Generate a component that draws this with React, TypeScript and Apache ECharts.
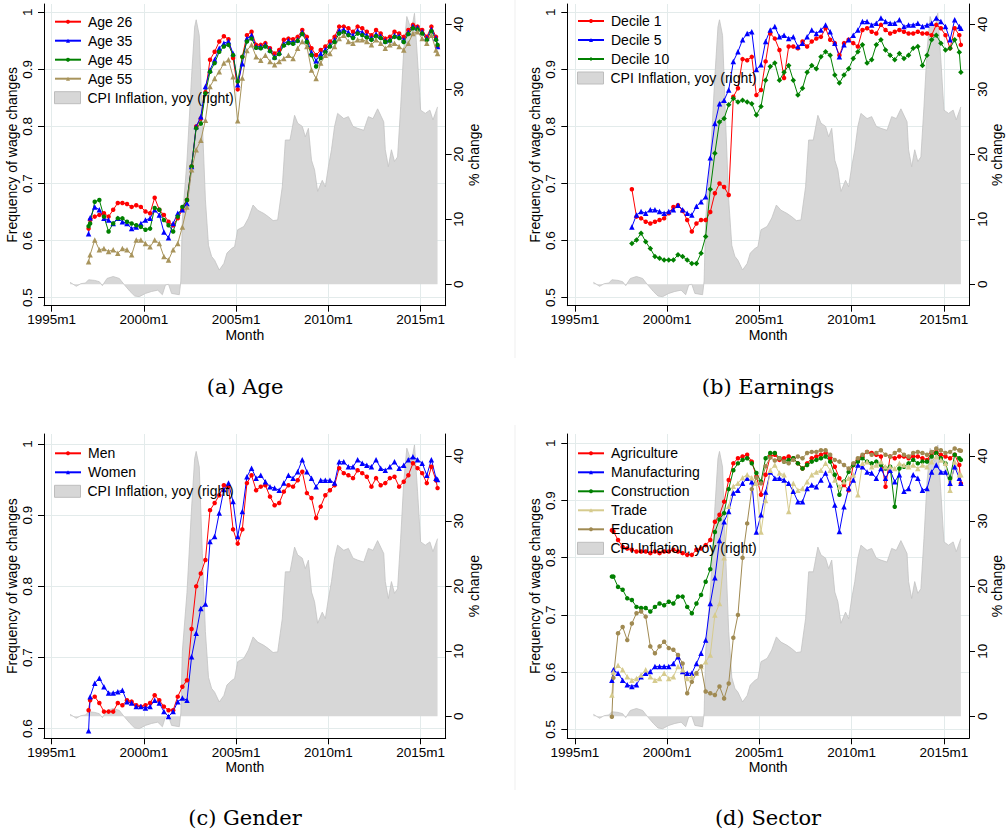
import React, { useEffect, useRef } from "react";
import * as echarts from "echarts";

const FONT = '"Liberation Sans", Arial, Helvetica, sans-serif';
const SERIF = '"DejaVu Serif", "Liberation Serif", serif';
const GRID_COLOR = "#e3ebeb";
const CPI_NAME = "CPI Inflation, yoy (right)";

const monthIndex = (s: string): number => {
  const [y, m] = s.split("m").map(Number);
  return (y - 1995) * 12 + (m - 1);
};

// observation dates: 1997m1, quarterly 1997m2 ... 2015m11, then 2015m12
const quarterly: string[] = [];
for (let y = 1997; y <= 2015; y++) for (const m of [2, 5, 8, 11]) quarterly.push(`${y}m${m}`);
const obsDates = ["1997m1", ...quarterly, "2015m12"];

const xTickLabels = ["1995m1", "2000m1", "2005m1", "2010m1", "2015m1"];
const yTicksWide = [0.5, 0.6, 0.7, 0.8, 0.9, 1];
const yTicksGender = [0.6, 0.7, 0.8, 0.9, 1];
const rightTicks = [0, 10, 20, 30, 40];

// ---- (a) Age ----
const age26 = [0.621,
  0.636, 0.642, 0.645, 0.648, 0.642, 0.654, 0.666, 0.666, 0.664, 0.659, 0.662, 0.659,
  0.651, 0.648, 0.675, 0.654, 0.645, 0.633, 0.627, 0.639, 0.654, 0.671, 0.73, 0.80,
  0.814, 0.86, 0.917, 0.931, 0.949, 0.958, 0.953, 0.92, 0.865, 0.922, 0.96, 0.966,
  0.943, 0.943, 0.946, 0.937, 0.928, 0.934, 0.952, 0.954, 0.953, 0.957, 0.969, 0.957,
  0.937, 0.925, 0.934, 0.94, 0.949, 0.957, 0.975, 0.975, 0.972, 0.966, 0.975, 0.972,
  0.966, 0.96, 0.969, 0.963, 0.954, 0.957, 0.966, 0.963, 0.957, 0.969, 0.978, 0.975,
  0.969, 0.957, 0.975, 0.957, 0.94];
const age35 = [0.612,
  0.64, 0.659, 0.654, 0.639, 0.636, 0.63, 0.639, 0.633, 0.63, 0.621, 0.624, 0.63,
  0.636, 0.639, 0.654, 0.645, 0.615, 0.605, 0.63, 0.648, 0.654, 0.665, 0.73, 0.80,
  0.817, 0.87, 0.899, 0.917, 0.937, 0.946, 0.949, 0.928, 0.873, 0.91, 0.954, 0.96,
  0.94, 0.94, 0.943, 0.935, 0.922, 0.93, 0.945, 0.95, 0.948, 0.952, 0.965, 0.952,
  0.93, 0.915, 0.928, 0.935, 0.943, 0.952, 0.968, 0.97, 0.965, 0.96, 0.968, 0.965,
  0.96, 0.955, 0.962, 0.958, 0.95, 0.952, 0.96, 0.958, 0.952, 0.965, 0.975, 0.973,
  0.966, 0.955, 0.97, 0.955, 0.94];
const age45 = [0.625,
  0.63, 0.668, 0.671, 0.642, 0.616, 0.63, 0.639, 0.639, 0.633, 0.63, 0.627, 0.624,
  0.619, 0.621, 0.657, 0.654, 0.636, 0.627, 0.616, 0.642, 0.659, 0.671, 0.73, 0.797,
  0.805, 0.858, 0.896, 0.911, 0.931, 0.94, 0.943, 0.925, 0.879, 0.922, 0.949, 0.954,
  0.938, 0.937, 0.94, 0.932, 0.92, 0.927, 0.942, 0.946, 0.945, 0.95, 0.962, 0.948,
  0.925, 0.905, 0.92, 0.93, 0.94, 0.948, 0.963, 0.965, 0.96, 0.955, 0.963, 0.96,
  0.956, 0.952, 0.958, 0.955, 0.948, 0.95, 0.957, 0.955, 0.948, 0.962, 0.972, 0.97,
  0.963, 0.952, 0.967, 0.952, 0.943];
const age55 = [0.563,
  0.575, 0.601, 0.584, 0.586, 0.581, 0.584, 0.578, 0.586, 0.584, 0.575, 0.601, 0.601,
  0.595, 0.589, 0.601, 0.595, 0.572, 0.566, 0.584, 0.595, 0.624, 0.659, 0.724, 0.759,
  0.776, 0.811, 0.87, 0.884, 0.896, 0.911, 0.917, 0.887, 0.81, 0.885, 0.933, 0.943,
  0.922, 0.916, 0.925, 0.914, 0.908, 0.914, 0.919, 0.925, 0.919, 0.937, 0.949, 0.94,
  0.899, 0.884, 0.911, 0.925, 0.928, 0.94, 0.954, 0.96, 0.949, 0.946, 0.952, 0.952,
  0.949, 0.943, 0.952, 0.946, 0.937, 0.943, 0.946, 0.94, 0.934, 0.946, 0.963, 0.966,
  0.954, 0.946, 0.96, 0.934, 0.928];

// ---- (b) Earnings ----
const decile1 = [null,
  null, null, null, null, 0.69, 0.642, 0.639, 0.633, 0.63, 0.633, 0.636, 0.639,
  0.648, 0.659, 0.662, 0.652, 0.636, 0.616, 0.63, 0.636, 0.636, 0.65, 0.683, 0.70,
  0.694, 0.68, 0.852, 0.867, 0.918, 0.916, 0.922, 0.855, 0.864, 0.914, 0.963, 0.954,
  0.934, 0.885, 0.94, 0.94, 0.937, 0.949, 0.94, 0.949, 0.954, 0.957, 0.972, 0.952,
  0.946, 0.925, 0.946, 0.952, 0.946, 0.94, 0.969, 0.972, 0.966, 0.963, 0.978, 0.969,
  0.963, 0.966, 0.969, 0.966, 0.963, 0.963, 0.966, 0.963, 0.963, 0.96, 0.978, 0.972,
  0.96, 0.937, 0.972, 0.96, 0.943];
const decile5 = [null,
  null, null, null, null, 0.624, 0.645, 0.651, 0.648, 0.654, 0.654, 0.651, 0.648,
  0.651, 0.654, 0.662, 0.654, 0.648, 0.645, 0.66, 0.668, 0.677, 0.745, 0.805, 0.84,
  0.846, 0.864, 0.914, 0.931, 0.952, 0.963, 0.966, 0.90, 0.908, 0.949, 0.969, 0.975,
  0.957, 0.96, 0.954, 0.957, 0.94, 0.946, 0.957, 0.969, 0.963, 0.969, 0.978, 0.966,
  0.946, 0.922, 0.943, 0.952, 0.96, 0.969, 0.984, 0.984, 0.978, 0.981, 0.99, 0.984,
  0.981, 0.981, 0.987, 0.975, 0.978, 0.978, 0.981, 0.975, 0.978, 0.981, 0.99, 0.984,
  0.975, 0.952, 0.987, 0.975, 0.972];
const decile10 = [null,
  null, null, null, null, 0.595, 0.601, 0.613, 0.598, 0.586, 0.572, 0.569, 0.566,
  0.566, 0.566, 0.575, 0.572, 0.566, 0.56, 0.56, 0.578, 0.607, 0.69, 0.753, 0.808,
  0.814, 0.838, 0.849, 0.843, 0.846, 0.843, 0.84, 0.82, 0.835, 0.881, 0.905, 0.911,
  0.881, 0.895, 0.907, 0.881, 0.855, 0.867, 0.895, 0.907, 0.901, 0.922, 0.931, 0.925,
  0.89, 0.876, 0.89, 0.901, 0.919, 0.931, 0.943, 0.911, 0.917, 0.943, 0.952, 0.934,
  0.925, 0.917, 0.928, 0.919, 0.925, 0.937, 0.94, 0.907, 0.925, 0.952, 0.96, 0.946,
  0.934, 0.937, 0.952, 0.93, 0.895];

// ---- (c) Gender ----
const men = [0.626,
  0.64, 0.645, 0.636, 0.624, 0.624, 0.624, 0.636, 0.633, 0.64, 0.638, 0.633, 0.631,
  0.633, 0.636, 0.647, 0.64, 0.631, 0.626, 0.626, 0.645, 0.659, 0.668, 0.74, 0.80,
  0.818, 0.837, 0.907, 0.917, 0.928, 0.942, 0.94, 0.88, 0.86, 0.88, 0.945, 0.956,
  0.935, 0.94, 0.942, 0.926, 0.914, 0.917, 0.933, 0.942, 0.94, 0.949, 0.961, 0.931,
  0.924, 0.896, 0.912, 0.928, 0.935, 0.942, 0.966, 0.959, 0.956, 0.952, 0.963, 0.959,
  0.954, 0.94, 0.952, 0.942, 0.945, 0.952, 0.954, 0.94, 0.947, 0.956, 0.973, 0.966,
  0.959, 0.945, 0.968, 0.949, 0.938];
const women = [0.597,
  0.645, 0.664, 0.671, 0.659, 0.65, 0.65, 0.652, 0.654, 0.638, 0.636, 0.631, 0.631,
  0.629, 0.631, 0.64, 0.636, 0.624, 0.617, 0.624, 0.638, 0.643, 0.64, 0.701, 0.734,
  0.769, 0.775, 0.863, 0.87, 0.903, 0.936, 0.945, 0.919, 0.87, 0.905, 0.954, 0.966,
  0.952, 0.956, 0.947, 0.94, 0.938, 0.935, 0.945, 0.956, 0.952, 0.961, 0.978, 0.961,
  0.952, 0.94, 0.949, 0.949, 0.949, 0.945, 0.975, 0.975, 0.968, 0.968, 0.978, 0.973,
  0.97, 0.968, 0.978, 0.966, 0.963, 0.968, 0.975, 0.966, 0.97, 0.978, 0.982, 0.978,
  0.973, 0.956, 0.978, 0.952, 0.95];

// ---- (d) Sector ----
const agriculture = [0.848,
  0.846, 0.831, 0.819, 0.816, 0.814, 0.811, 0.811, 0.811, 0.808, 0.811, 0.808, 0.811,
  0.811, 0.814, 0.811, 0.808, 0.805, 0.805, 0.814, 0.816, 0.822, 0.831, 0.863, 0.875,
  0.898, 0.936, 0.965, 0.974, 0.977, 0.98, 0.968, 0.942, 0.91, 0.945, 0.977, 0.98,
  0.971, 0.974, 0.977, 0.974, 0.965, 0.956, 0.965, 0.974, 0.977, 0.98, 0.983, 0.974,
  0.959, 0.939, 0.927, 0.918, 0.962, 0.971, 0.977, 0.985, 0.983, 0.98, 0.977, 0.924,
  0.977, 0.974, 0.977, 0.977, 0.974, 0.977, 0.977, 0.974, 0.971, 0.983, 0.985, 0.98,
  0.977, 0.974, 0.98, 0.962, 0.93];
const manufacturing = [0.586,
  0.604, 0.598, 0.586, 0.578, 0.575, 0.578, 0.592, 0.598, 0.601, 0.61, 0.61, 0.61,
  0.61, 0.615, 0.627, 0.601, 0.598, 0.598, 0.615, 0.633, 0.656, 0.72, 0.765, 0.83,
  0.863, 0.881, 0.913, 0.918, 0.93, 0.939, 0.933, 0.845, 0.875, 0.915, 0.95, 0.939,
  0.939, 0.936, 0.93, 0.916, 0.898, 0.898, 0.921, 0.927, 0.924, 0.936, 0.948, 0.927,
  0.892, 0.846, 0.889, 0.921, 0.936, 0.962, 0.959, 0.95, 0.948, 0.939, 0.956, 0.939,
  0.953, 0.933, 0.945, 0.916, 0.921, 0.945, 0.939, 0.918, 0.921, 0.95, 0.962, 0.95,
  0.95, 0.93, 0.959, 0.939, 0.93];
const construction = [0.767,
  0.767, 0.749, 0.744, 0.729, 0.726, 0.714, 0.712, 0.712, 0.706, 0.714, 0.72, 0.717,
  0.723, 0.72, 0.732, 0.732, 0.714, 0.703, 0.72, 0.735, 0.758, 0.78, 0.845, 0.867,
  0.878, 0.92, 0.953, 0.965, 0.971, 0.974, 0.965, 0.948, 0.933, 0.974, 0.983, 0.983,
  0.974, 0.968, 0.971, 0.974, 0.965, 0.956, 0.962, 0.968, 0.971, 0.974, 0.977, 0.968,
  0.945, 0.91, 0.933, 0.95, 0.962, 0.968, 0.974, 0.968, 0.965, 0.968, 0.962, 0.956,
  0.959, 0.889, 0.956, 0.959, 0.965, 0.971, 0.965, 0.968, 0.968, 0.977, 0.983, 0.974,
  0.965, 0.939, 0.98, 0.974, 0.971];
const trade = [0.56,
  0.60, 0.612, 0.604, 0.592, 0.586, 0.589, 0.595, 0.604, 0.592, 0.586, 0.589, 0.598,
  0.589, 0.592, 0.61, 0.604, 0.589, 0.592, 0.598, 0.61, 0.618, 0.63, 0.70, 0.72,
  0.80, 0.89, 0.925, 0.93, 0.94, 0.945, 0.94, 0.93, 0.845, 0.90, 0.953, 0.962,
  0.948, 0.945, 0.881, 0.93, 0.918, 0.921, 0.933, 0.945, 0.95, 0.953, 0.965, 0.953,
  0.936, 0.924, 0.933, 0.939, 0.945, 0.91, 0.965, 0.968, 0.959, 0.962, 0.968, 0.959,
  0.959, 0.956, 0.965, 0.962, 0.959, 0.962, 0.956, 0.962, 0.959, 0.968, 0.977, 0.971,
  0.965, 0.918, 0.968, 0.945, 0.945];
const education = [0.522,
  0.59, 0.668, 0.679, 0.656, 0.685, 0.703, 0.706, 0.697, 0.645, 0.633, 0.645, 0.653,
  0.642, 0.639, 0.63, 0.615, 0.563, 0.583, 0.598, 0.61, 0.566, 0.563, 0.56, 0.575,
  0.554, 0.58, 0.66, 0.70, 0.80, 0.86, 0.92, 0.94, 0.93, 0.96, 0.975, 0.97,
  0.974, 0.968, 0.965, 0.971, 0.977, 0.974, 0.983, 0.985, 0.985, 0.988, 0.988, 0.98,
  0.971, 0.968, 0.962, 0.956, 0.965, 0.974, 0.98, 0.985, 0.98, 0.983, 0.988, 0.98,
  0.977, 0.983, 0.988, 0.98, 0.977, 0.983, 0.985, 0.983, 0.98, 0.985, 0.991, 0.988,
  0.983, 0.985, 0.991, 0.988, 0.987];

// ---- CPI inflation, yoy (%), right axis ----
const cpiDates = [
  "1996m1", "1996m5", "1996m8", "1996m11", "1997m1", "1997m5", "1997m8", "1997m10",
  "1998m1", "1998m5", "1998m9", "1998m12", "1999m4", "1999m7", "1999m10", "2000m2",
  "2000m6", "2000m10", "2001m1", "2001m3", "2001m5", "2001m7", "2001m12", "2002m1",
  "2002m2", "2002m5", "2002m8", "2002m10", "2002m11", "2003m1", "2003m3", "2003m5",
  "2003m7", "2003m9", "2003m11", "2004m2", "2004m5", "2004m7", "2004m10", "2004m12",
  "2005m2", "2005m6", "2005m9", "2005m12", "2006m3", "2006m7", "2006m10", "2007m1",
  "2007m4", "2007m7", "2007m9", "2007m12", "2008m3", "2008m5", "2008m8", "2008m10",
  "2008m12", "2009m2", "2009m4", "2009m6", "2009m9", "2009m11", "2010m1", "2010m3",
  "2010m5", "2010m7", "2010m11", "2011m2", "2011m5", "2011m8", "2011m12", "2012m3",
  "2012m6", "2012m9", "2013m1", "2013m2", "2013m4", "2013m6", "2013m8", "2013m10",
  "2013m12", "2014m2", "2014m4", "2014m7", "2014m9", "2014m11", "2015m1", "2015m4",
  "2015m7", "2015m9", "2015m12"];
const cpiValues = [
  0.3, -0.3, 0.1, 0.2, 0.7, 0.6, 0.4, -0.2,
  0.9, 1.2, 0.9, 0, -1.1, -1.8, -1.9, -1.4,
  -1.1, -0.9, -1.6, -0.1, 0, -1.4, -1.6, 0.5,
  10, 19, 32, 39.6, 40.7, 38.3, 25, 13,
  6, 4.3, 3.7, 2.2, 3.2, 4.8, 5.5, 5.8,
  8.4, 8.9, 10.2, 12.2, 11.4, 10.9, 10.4, 9.8,
  9.9, 15, 22.2, 22.2, 26, 24.8, 24.3, 22.7,
  24, 19.1, 17.6, 14.3, 16, 15, 18.1, 20.7,
  24.3, 26.3, 25.5, 25.8, 24.3, 24, 23.7, 25.8,
  25.5, 27, 25, 20.7, 18.1, 20.7, 18.9, 19.6,
  27.3, 36, 41.2, 39.1, 41.7, 34.5, 26.8, 26.3,
  26.8, 25.3, 27.3];

type LineDef = { name: string; values: (number | null)[]; color: string; symbol: string; size: number };

const RED = "#ff0000";
const BLUE = "#0000ff";
const GREEN = "#008000";

const panels = [
  {
    caption: "(a) Age", cx: 245, cy: 387,
    grid: { left: 44, top: 4, width: 401.7, height: 301.7 },
    yMin: 0.4859, yMax: 1.0146, yTicks: yTicksWide, rMin: -3.29, rMax: 43.13,
    legendLeft: 54, legendTop: 14.7,
    lines: [
      { name: "Age 26", values: age26, color: RED, symbol: "circle", size: 4.5 },
      { name: "Age 35", values: age35, color: BLUE, symbol: "triangle", size: 5.5 },
      { name: "Age 45", values: age45, color: GREEN, symbol: "circle", size: 4.5 },
      { name: "Age 55", values: age55, color: "#a8945c", symbol: "triangle", size: 5.5 },
    ] as LineDef[],
  },
  {
    caption: "(b) Earnings", cx: 768, cy: 387,
    grid: { left: 567.3, top: 4, width: 401.7, height: 301.7 },
    yMin: 0.4859, yMax: 1.0146, yTicks: yTicksWide, rMin: -3.29, rMax: 43.13,
    legendLeft: 577, legendTop: 14,
    lines: [
      { name: "Decile 1", values: decile1, color: RED, symbol: "circle", size: 4.5 },
      { name: "Decile 5", values: decile5, color: BLUE, symbol: "triangle", size: 5.5 },
      { name: "Decile 10", values: decile10, color: GREEN, symbol: "diamond", size: 5.5 },
    ] as LineDef[],
  },
  {
    caption: "(c) Gender", cx: 245, cy: 818,
    grid: { left: 44, top: 434, width: 401.7, height: 304.3 },
    yMin: 0.5865, yMax: 1.014, yTicks: yTicksGender, rMin: -3.38, rMax: 43.38,
    legendLeft: 54, legendTop: 446.3,
    lines: [
      { name: "Men", values: men, color: RED, symbol: "circle", size: 4.5 },
      { name: "Women", values: women, color: BLUE, symbol: "triangle", size: 5.5 },
    ] as LineDef[],
  },
  {
    caption: "(d) Sector", cx: 768, cy: 818,
    grid: { left: 567.3, top: 434, width: 401.7, height: 304.3 },
    yMin: 0.4843, yMax: 1.0163, yTicks: yTicksWide, rMin: -3.38, rMax: 43.38,
    legendLeft: 577, legendTop: 446.3,
    lines: [
      { name: "Agriculture", values: agriculture, color: RED, symbol: "circle", size: 4.5 },
      { name: "Manufacturing", values: manufacturing, color: BLUE, symbol: "triangle", size: 5.5 },
      { name: "Construction", values: construction, color: GREEN, symbol: "circle", size: 4.5 },
      { name: "Trade", values: trade, color: "#d6cb8e", symbol: "triangle", size: 5.5 },
      { name: "Education", values: education, color: "#a08a52", symbol: "circle", size: 4.5 },
    ] as LineDef[],
  },
];

const xTicks = xTickLabels.map(monthIndex);
const cpiData = cpiDates.map((d, i) => [monthIndex(d), cpiValues[i]]);

const tickText = { fontSize: 13.5, color: "#000", fontFamily: FONT };
const titleText = { fontSize: 14, color: "#000", fontFamily: FONT };
const axisLine = { show: true, onZero: false, lineStyle: { color: "#000", width: 1 } };

function buildOption() {
  const grid = panels.map((p) => ({ ...p.grid, containLabel: false }));
  const xAxis = panels.map((_, i) => ({
    type: "value", gridIndex: i, min: -5, max: 256.3,
    axisLine,
    axisTick: { show: true, customValues: xTicks, length: 6, lineStyle: { color: "#000" } },
    axisLabel: {
      ...tickText, customValues: xTicks, margin: 7,
      formatter: (v: number) => `${1995 + Math.round(v / 12)}m1`,
    },
    splitLine: { show: true, lineStyle: { color: GRID_COLOR, width: 1 } },
    name: "Month", nameLocation: "middle", nameGap: 21, nameTextStyle: titleText,
  }));
  const yAxis: any[] = [];
  panels.forEach((p, i) => {
    yAxis.push({
      type: "value", gridIndex: i, position: "left", min: p.yMin, max: p.yMax,
      axisLine,
      axisTick: { show: true, customValues: p.yTicks, length: 6, lineStyle: { color: "#000" } },
      axisLabel: {
        ...tickText, customValues: p.yTicks, rotate: 90, margin: 10,
        formatter: (v: number) => String(Math.round(v * 10) / 10),
      },
      splitLine: { show: true, lineStyle: { color: GRID_COLOR, width: 1 } },
      name: "Frequency of wage changes", nameLocation: "middle", nameGap: 25, nameTextStyle: titleText,
    });
    yAxis.push({
      type: "value", gridIndex: i, position: "right", min: p.rMin, max: p.rMax,
      axisLine,
      axisTick: { show: true, customValues: rightTicks, length: 6, lineStyle: { color: "#000" } },
      axisLabel: { ...tickText, customValues: rightTicks, rotate: 90, margin: 6 },
      splitLine: { show: false },
      name: "% change", nameLocation: "middle", nameGap: 20, nameTextStyle: titleText,
    });
  });

  const series: any[] = [];
  panels.forEach((p, i) => {
    series.push({
      type: "line", name: CPI_NAME, xAxisIndex: i, yAxisIndex: 2 * i + 1,
      data: cpiData, symbol: "none", silent: true, z: 1,
      lineStyle: { color: "#c3c3c3", width: 0.8 },
      itemStyle: { color: "#d7d7d7" },
      areaStyle: { color: "#d7d7d7", opacity: 1 },
    });
    p.lines.forEach((l) => {
      series.push({
        type: "line", name: l.name, xAxisIndex: i, yAxisIndex: 2 * i,
        data: obsDates
          .map((d, j) => [monthIndex(d), l.values[j]])
          .filter((pt) => pt[1] !== null && pt[1] !== undefined),
        symbol: l.symbol, symbolSize: l.size, silent: true, z: 3,
        lineStyle: { color: l.color, width: 1 },
        itemStyle: { color: l.color },
      });
    });
  });

  const legend: any[] = [];
  panels.forEach((p) => {
    legend.push({
      orient: "vertical", left: p.legendLeft, top: p.legendTop, padding: 0,
      itemWidth: 26, itemHeight: 5, itemGap: 5, selectedMode: false,
      data: p.lines.map((l) => l.name),
      textStyle: { ...titleText, padding: [0, 0, 0, 2] },
    });
    legend.push({
      orient: "vertical", left: p.legendLeft, top: p.legendTop + 19 * p.lines.length, padding: 0,
      itemWidth: 26, itemHeight: 12, itemGap: 5, selectedMode: false,
      data: [{ name: CPI_NAME, icon: "rect", itemStyle: { color: "#d7d7d7", borderColor: "#bdbdbd", borderWidth: 1 } }],
      textStyle: { ...titleText, padding: [0, 0, 0, 2] },
    });
  });

  const graphic: any[] = [
    { type: "line", shape: { x1: 515, y1: 0, x2: 515, y2: 358 }, style: { stroke: "#efefef", lineWidth: 1 }, silent: true },
    { type: "line", shape: { x1: 515, y1: 425, x2: 515, y2: 790 }, style: { stroke: "#efefef", lineWidth: 1 }, silent: true },
    ...panels.map((p) => ({
      type: "text", x: p.cx, y: p.cy, silent: true,
      style: { text: p.caption, font: `21px ${SERIF}`, fill: "#000", textAlign: "center", textVerticalAlign: "middle" },
    })),
  ];

  return { animation: false, backgroundColor: "#fff", grid, xAxis, yAxis, series, legend, graphic };
}

export default function App() {
  const ref = useRef<HTMLDivElement>(null);
  useEffect(() => {
    if (!ref.current) return;
    const chart = echarts.init(ref.current, undefined, { renderer: "svg" });
    chart.setOption(buildOption() as any);
    return () => chart.dispose();
  }, []);
  return (
    <div
      ref={ref}
      style={{ position: "absolute", left: 0, top: 0, width: 1007, height: 833, background: "#fff" }}
    />
  );
}
